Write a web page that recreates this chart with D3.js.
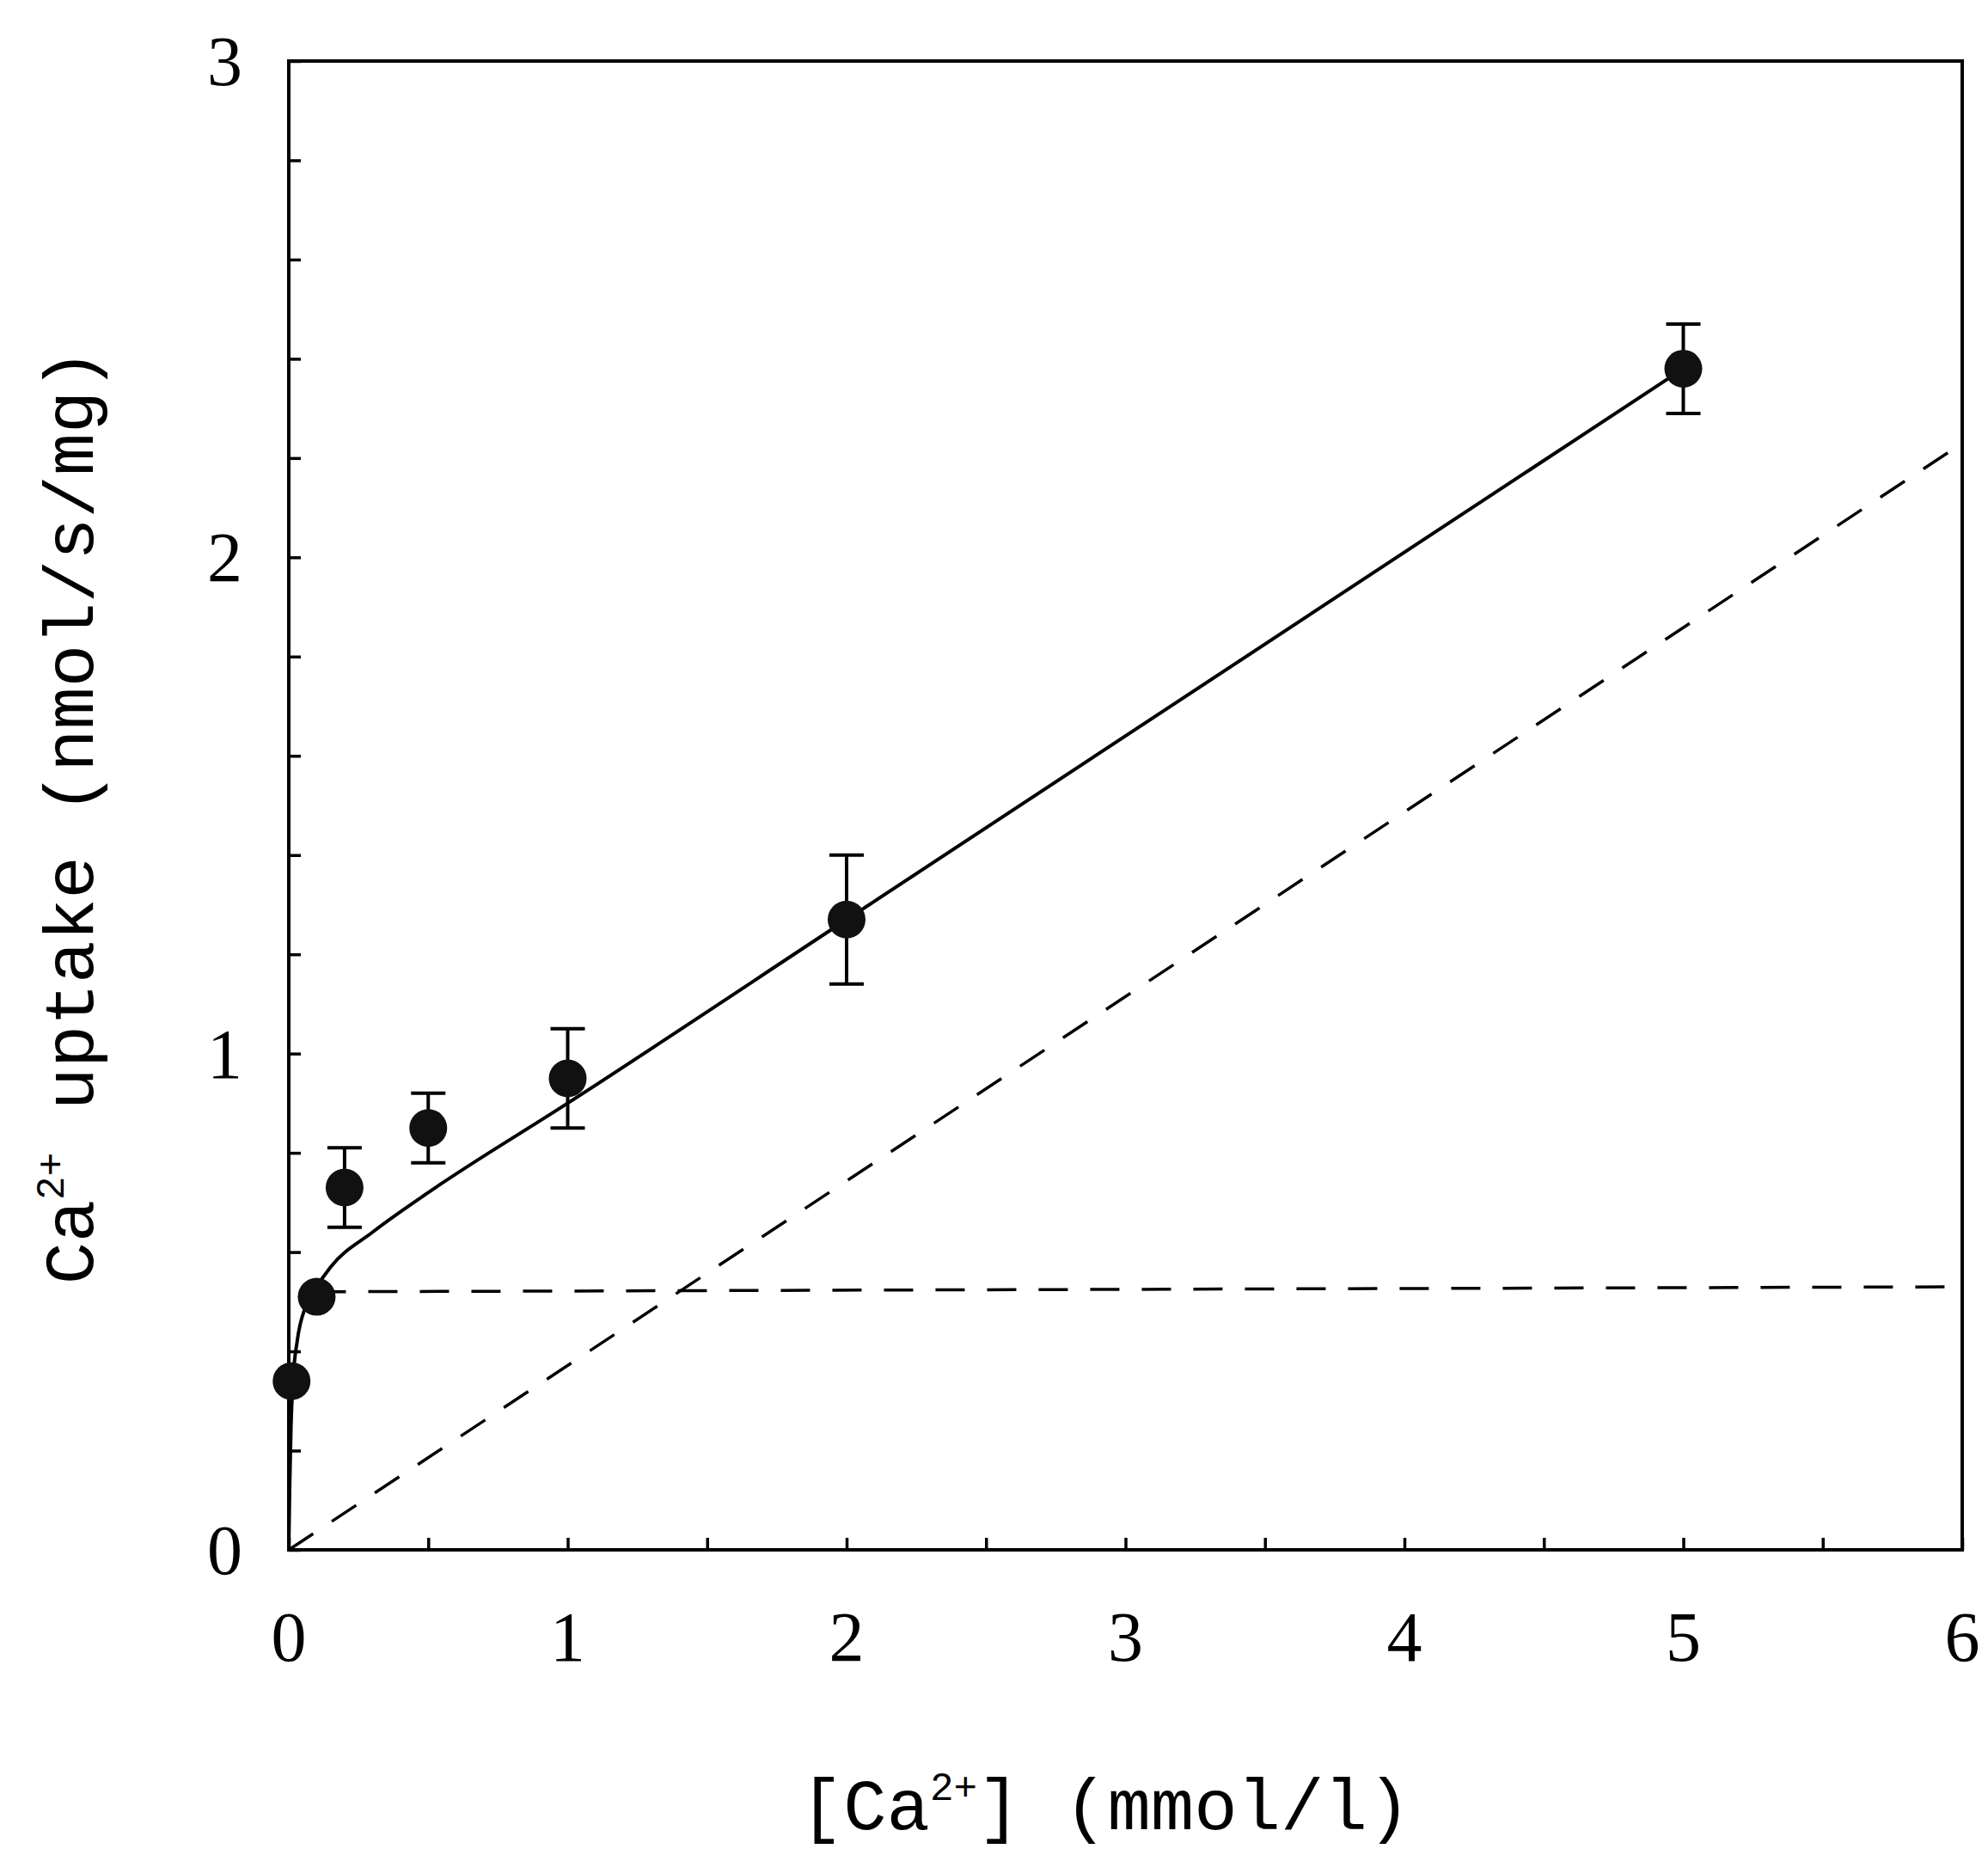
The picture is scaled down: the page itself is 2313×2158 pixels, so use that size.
<!DOCTYPE html>
<html><head><meta charset="utf-8">
<script src="https://cdn.jsdelivr.net/npm/d3@7"></script>
<style>body{margin:0;background:#fff}</style>
</head><body>
<div id="chart"></div>
<script>
// measured points: Ca2+ concentration (mmol/l) vs uptake (nmol/s/mg)
var conc = [0.01, 0.1, 0.2, 0.5, 1, 2, 5];
var uptake = [0.34, 0.51, 0.73, 0.85, 0.95, 1.27, 2.38];
var errHi = [0.34, 0.51, 0.81, 0.92, 1.05, 1.40, 2.47];
var errLo = [0.34, 0.51, 0.65, 0.78, 0.85, 1.14, 2.29];
var showErr = [false, false, true, true, true, true, true];

// fitted total curve (solid)
var fitX = [0, 0.003, 0.008, 0.015, 0.03, 0.06, 0.1, 0.15, 0.3, 0.5, 1, 2, 5];
var fitY = [0, 0.12, 0.25, 0.34, 0.42, 0.49, 0.53, 0.57, 0.64, 0.72, 0.90, 1.27, 2.38];
// saturable component (dashed horizontal)
var satX = [0.1, 6];
var satY = [0.52, 0.53];
// linear component (dashed diagonal)
var linX = [0, 6];
var linY = [0, 2.23];

var xTicks = [0, 1, 2, 3, 4, 5, 6];
var yTicks = [0, 1, 2, 3];

var W = 2313, H = 2158;
var m = {left: 336, right: 2283, top: 71, bottom: 1803};

var svg = d3.select('#chart').append('svg')
  .attr('width', W).attr('height', H);

var x = d3.scaleLinear().domain([0, 6]).range([m.left, m.right]);
var y = d3.scaleLinear().domain([0, 3]).range([m.bottom, m.top]);

// frame
svg.append('rect')
  .attr('x', m.left).attr('y', m.top)
  .attr('width', m.right - m.left).attr('height', m.bottom - m.top)
  .attr('fill', 'none').attr('stroke', '#000').attr('stroke-width', 4);

// inward ticks
var xAxis = d3.axisTop(x).tickValues(d3.range(0, 6.01, 0.5)).tickSize(14).tickFormat('');
svg.append('g').attr('transform', 'translate(0,' + m.bottom + ')').call(xAxis);
var yAxis = d3.axisRight(y).tickValues(d3.range(0, 3.01, 0.2)).tickSize(14).tickFormat('');
svg.append('g').attr('transform', 'translate(' + m.left + ',0)').call(yAxis);
svg.selectAll('.domain').remove();
svg.selectAll('.tick line').attr('stroke', '#000').attr('stroke-width', 3.5);

// tick labels
svg.append('g').selectAll('text').data(xTicks).enter().append('text')
  .attr('x', function(d){ return x(d); })
  .attr('y', 1932)
  .attr('text-anchor', 'middle')
  .attr('font-family', 'Liberation Serif')
  .attr('font-size', 82)
  .text(function(d){ return d; });

svg.append('g').selectAll('text').data(yTicks).enter().append('text')
  .attr('x', 282)
  .attr('y', function(d){ return y(d) + 28; })
  .attr('text-anchor', 'end')
  .attr('font-family', 'Liberation Serif')
  .attr('font-size', 82)
  .text(function(d){ return d; });

// axis titles
var xt = svg.append('text')
  .attr('x', 1286).attr('y', 2128)
  .attr('text-anchor', 'middle')
  .attr('font-family', 'Liberation Mono')
  .attr('font-size', 84);
xt.append('tspan').text('[Ca');
xt.append('tspan').attr('font-size', 46).attr('dy', -34).text('2+');
xt.append('tspan').attr('dy', 34).text('] (mmol/l)');

var yt = svg.append('text')
  .attr('transform', 'translate(108,950) rotate(-90)')
  .attr('text-anchor', 'middle')
  .attr('font-family', 'Liberation Mono')
  .attr('font-size', 82);
yt.append('tspan').text('Ca');
yt.append('tspan').attr('font-size', 46).attr('dy', -34).text('2+');
yt.append('tspan').attr('dy', 34).text(' uptake (nmol/s/mg)');

var line = d3.line()
  .x(function(d){ return x(d[0]); })
  .y(function(d){ return y(d[1]); });

svg.append('path')
  .datum(d3.zip(satX, satY))
  .attr('d', line).attr('fill', 'none')
  .attr('stroke', '#000').attr('stroke-width', 3.5)
  .attr('stroke-dasharray', '34,26');

svg.append('path')
  .datum(d3.zip(linX, linY))
  .attr('d', line).attr('fill', 'none')
  .attr('stroke', '#000').attr('stroke-width', 3.5)
  .attr('stroke-dasharray', '34,26');

svg.append('path')
  .datum(d3.zip(fitX, fitY))
  .attr('d', line.curve(d3.curveMonotoneX)).attr('fill', 'none')
  .attr('stroke', '#000').attr('stroke-width', 4);

// error bars
var pts = conc.map(function(c, i){
  return {x: c, y: uptake[i], hi: errHi[i], lo: errLo[i], e: showErr[i]};
});
var eb = svg.append('g').selectAll('g').data(pts.filter(function(d){ return d.e; }))
  .enter().append('g');
eb.append('line')
  .attr('x1', function(d){ return x(d.x); }).attr('x2', function(d){ return x(d.x); })
  .attr('y1', function(d){ return y(d.hi); }).attr('y2', function(d){ return y(d.lo); })
  .attr('stroke', '#000').attr('stroke-width', 4);
['hi', 'lo'].forEach(function(k){
  eb.append('line')
    .attr('x1', function(d){ return x(d.x) - 20; }).attr('x2', function(d){ return x(d.x) + 20; })
    .attr('y1', function(d){ return y(d[k]); }).attr('y2', function(d){ return y(d[k]); })
    .attr('stroke', '#000').attr('stroke-width', 4);
});

svg.append('g').selectAll('circle').data(pts).enter().append('circle')
  .attr('cx', function(d){ return x(d.x); })
  .attr('cy', function(d){ return y(d.y); })
  .attr('r', 22)
  .attr('fill', '#111');
</script>
</body></html>
